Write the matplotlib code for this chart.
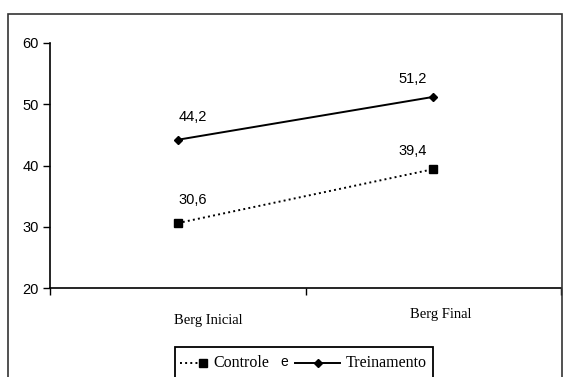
import matplotlib
matplotlib.use("Agg")
import matplotlib.pyplot as plt
from matplotlib.patches import Rectangle
from matplotlib.lines import Line2D

categories = ["Berg Inicial", "Berg Final"]
controle = [30.6, 39.4]
treinamento = [44.2, 51.2]
controle_lbl = ["30,6", "39,4"]
treinamento_lbl = ["44,2", "51,2"]
yticks = [20, 30, 40, 50, 60]

plt.rcParams["font.family"] = ["Liberation Sans", "DejaVu Sans"]
W, H = 566, 377
fig = plt.figure(figsize=(W/100, H/100), dpi=100)
px = lambda xp, yp: (xp / W, 1 - yp / H)   # pixel -> figure fraction

# outer frame (chart area border)
fig.patches.append(Rectangle(px(8, 400), (562-8)/W, (400-14)/H,
                             transform=fig.transFigure, fill=False,
                             ec="#333333", lw=1.2, zorder=0))

ax = fig.add_axes([50/W, 1-288/H, (561-50)/W, (288-43)/H])
x = [0.5, 1.5]
ax.plot(x, treinamento, "-", color="black", lw=1.4, marker="D", ms=4.5)
ax.plot(x, controle, ":", color="black", lw=1.4, marker="s", ms=5.5)

ax.set_xlim(0, 2)
ax.set_ylim(20, 60)
ax.set_yticks(yticks)
ax.set_xticks([0, 1, 2])
ax.set_xticklabels([])
ax.tick_params(axis="y", direction="out", length=5, width=1, labelsize=10.5, pad=3)
ax.tick_params(axis="x", direction="out", length=5, width=1)
for s in ["top", "right"]:
    ax.spines[s].set_visible(False)
for s in ["left", "bottom"]:
    ax.spines[s].set_linewidth(1.2)

# data labels
offs = [(0.06, 3.7), (-0.08, 3.0)]
for i in range(2):
    ax.text(x[i] + offs[i][0], treinamento[i] + offs[i][1], treinamento_lbl[i],
            ha="center", va="center", fontsize=10.5)
    ax.text(x[i] + offs[i][0], controle[i] + offs[i][1], controle_lbl[i],
            ha="center", va="center", fontsize=10.5)

# category labels
cat_x = [0.62, 1.53]
cat_y = [14.7, 15.7]
for i, c in enumerate(categories):
    ax.text(cat_x[i], cat_y[i], c, ha="center", va="center", fontsize=10.5,
            family="Liberation Serif", clip_on=False)

# legend drawn by hand, as in the original
fig.patches.append(Rectangle(px(175, 400), (433-175)/W, (400-347)/H,
                             transform=fig.transFigure, fill=False,
                             ec="black", lw=1.3))
ly = 363
fig.add_artist(Line2D([px(180, ly)[0], px(200, ly)[0]], [px(0, ly)[1]]*2,
                      transform=fig.transFigure, color="black", ls=":", lw=1.4))
fig.add_artist(Line2D([px(203, ly)[0]], [px(0, ly)[1]], transform=fig.transFigure,
                      color="black", marker="s", ms=5.5, ls="none"))
fig.text(*px(213, ly), "Controle", ha="left", va="center", fontsize=11.5,
         family="Liberation Serif")
fig.text(*px(280, ly - 1), "e", ha="left", va="center", fontsize=10)
fig.add_artist(Line2D([px(295, ly)[0], px(340, ly)[0]], [px(0, ly)[1]]*2,
                      transform=fig.transFigure, color="black", ls="-", lw=1.4,
                      marker="D", ms=4.5, markevery=[]))
fig.add_artist(Line2D([px(318, ly)[0]], [px(0, ly)[1]], transform=fig.transFigure,
                      color="black", marker="D", ms=4.5, ls="none"))
fig.text(*px(346, ly), "Treinamento", ha="left", va="center", fontsize=11.5,
         family="Liberation Serif")

fig.savefig("out.png", dpi=100)
